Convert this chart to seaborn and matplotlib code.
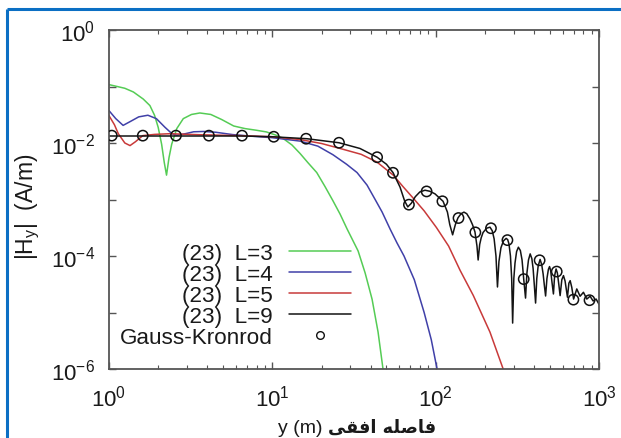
import matplotlib
matplotlib.use("Agg")
import matplotlib.pyplot as plt
import seaborn as sns
from matplotlib.lines import Line2D
from matplotlib.ticker import NullLocator, NullFormatter, LogLocator

# ---------------- data ----------------
l3_x = [1.0, 1.25, 1.41, 1.62, 1.78, 1.90, 2.0, 2.10, 2.18, 2.25, 2.33, 2.42, 2.60, 2.85,
        3.2, 3.6, 4.2, 4.9, 5.8, 6.8, 8.0, 9.2, 10.5, 11.7, 13.2, 14.8, 16.5, 18.7, 21.0,
        23.5, 26.0, 28.7, 33.5, 37.0, 40.8, 44.4, 47.6]
l3_y = [0.108, 0.093, 0.080, 0.060, 0.046, 0.031, 0.019, 0.0095, 0.0045, 0.0027, 0.0055,
        0.0095, 0.018, 0.027, 0.032, 0.034, 0.032, 0.026, 0.020, 0.0180, 0.0168, 0.0157,
        0.0138, 0.0119, 0.0092, 0.0065, 0.0045, 0.0030, 0.0017, 9.5e-4, 5.5e-4, 3.0e-4,
        1.23e-4, 5.0e-5, 1.72e-5, 4.5e-6, 1.0e-6]

l4_x = [1.0, 1.1, 1.22, 1.35, 1.52, 1.73, 1.95, 2.2, 2.43, 2.6, 2.9, 3.3, 3.8, 4.5, 5.7,
        7.5, 10.0, 14.8, 19.0, 23.5, 28.5, 33.0, 38.0, 42.6, 47.0, 52.6, 58.0, 64.0, 74.0,
        85.0, 94.0, 102.0]
l4_y = [0.0374, 0.027, 0.0205, 0.024, 0.029, 0.031, 0.027, 0.019, 0.0146, 0.0137, 0.0145,
        0.0158, 0.0160, 0.0155, 0.0141, 0.0132, 0.0124, 0.0108, 0.0088, 0.0062, 0.0042,
        0.0030, 0.0018, 0.0010, 6.0e-4, 3.0e-4, 1.7e-4, 1.0e-4, 3.8e-5, 1.0e-5, 3.3e-6, 1.0e-6]

l5_x = [1.0, 1.08, 1.14, 1.25, 1.345, 1.45, 1.61, 1.9, 2.36, 3.61, 6.34, 10.1, 14.8, 20.0,
        26.0, 35.0, 43.7, 55.0, 63.0, 73.0, 85.0, 101.0, 120.0, 141.0, 170.0, 215.0, 259.0]
l5_y = [0.0305, 0.021, 0.0146, 0.0100, 0.0090, 0.0105, 0.0135, 0.0142, 0.0146, 0.0140,
        0.0135, 0.0129, 0.0115, 0.0098, 0.0080, 0.0063, 0.0046, 0.0027, 0.0017, 1.05e-3,
        6.3e-4, 3.2e-4, 1.5e-4, 5.6e-5, 2.0e-5, 4.5e-6, 1.0e-6]

l9_x = [1.0, 2.0, 4.0, 6.5, 10.0, 16.3, 25.6, 34.4, 43.8, 50.0, 54.8, 60.5, 64.5, 67.5,
        71.0, 75.0, 80.0, 86.0, 92.0, 99.0, 111.0, 118.0, 122.0, 127.0, 132.0, 137.0, 143.0,
        149.0, 155.0, 162.0, 168.0, 174.0, 179.0, 182.0, 186.0, 190.0, 195.0, 205.0, 215.0,
        222.0, 228.0, 234.0, 239.0, 244.0, 251.0, 260.0, 270.0, 276.0, 281.0, 287.0, 292.0,
        296.0, 301.0, 306.0, 313.0, 321.0, 330.0, 338.0, 346.0, 355.0, 362.0, 370.0, 379.0,
        388.0, 395.0, 402.0, 409.0, 416.0, 424.0, 436.0, 446.0, 455.0, 463.0, 471.0, 480.0,
        490.0, 498.0, 506.0, 515.0, 526.0, 535.0, 546.0, 556.0, 567.0, 578.0, 592.0, 606.0,
        620.0, 641.0, 654.0, 666.0, 681.0, 699.0, 731.0, 766.0, 803.0, 842.0, 882.0, 920.0,
        960.0, 1000.0]
l9_y = [0.0133, 0.0133, 0.0133, 0.0133, 0.0129, 0.0119, 0.0101, 0.0080, 0.0056, 0.0042,
        0.0030, 0.00166, 9.5e-4, 7.4e-4, 8.6e-4, 1.12e-3, 1.36e-3, 1.46e-3, 1.40e-3, 1.26e-3,
        9.3e-4, 6.0e-4, 3.6e-4, 2.37e-4, 3.6e-4, 4.74e-4, 5.6e-4, 5.98e-4, 5.6e-4, 4.55e-4,
        3.6e-4, 2.67e-4, 1.5e-4, 8.5e-5, 1.6e-4, 2.1e-4, 2.6e-4, 3.1e-4, 3.24e-4, 2.8e-4,
        2.01e-4, 1.0e-4, 2.83e-5, 8.0e-5, 1.4e-4, 1.85e-4, 2.05e-4, 1.95e-4, 1.64e-4, 1.0e-4,
        4.0e-5, 6.5e-6, 4.0e-5, 7.5e-5, 1.2e-4, 1.43e-4, 1.25e-4, 8.5e-5, 3.9e-5, 1.8e-5,
        5.0e-5, 8.5e-5, 1.09e-4, 9.0e-5, 6.0e-5, 3.0e-5, 1.47e-5, 4.0e-5, 6.6e-5, 8.7e-5,
        7.0e-5, 4.8e-5, 3.0e-5, 1.96e-5, 4.0e-5, 5.8e-5, 6.5e-5, 5.5e-5, 3.5e-5, 2.13e-5,
        4.5e-5, 5.9e-5, 5.0e-5, 3.2e-5, 1.99e-5, 3.8e-5, 4.5e-5, 3.6e-5, 1.86e-5, 3.3e-5,
        3.66e-5, 2.8e-5, 1.73e-5, 2.61e-5, 1.94e-5, 2.28e-5, 1.73e-5, 1.94e-5, 1.6e-5,
        1.73e-5, 1.4e-5]

gk_x = [1.04, 1.61, 2.57, 4.09, 6.52, 10.2, 16.1, 25.6, 43.8, 54.8, 68.6, 88.0, 110.0,
        138.0, 175.0, 218.0, 275.0, 346.0, 433.0, 551.0, 697.0, 875.0]
gk_y = [0.0135, 0.0135, 0.0135, 0.0135, 0.0135, 0.0129, 0.0119, 0.0101, 0.0056, 0.00297,
        8.1e-4, 1.39e-3, 9.3e-4, 4.7e-4, 2.62e-4, 3.1e-4, 1.91e-4, 3.9e-5, 8.4e-5, 5.3e-5,
        1.69e-5, 1.65e-5]

series_labels = ["(23)  L=3", "(23)  L=4", "(23)  L=5", "(23)  L=9"]
gk_label = "Gauss-Kronrod"
x_ticks = [1, 10, 100, 1000]
x_tick_labels = ["$10^{0}$", "$10^{1}$", "$10^{2}$", "$10^{3}$"]
y_ticks = [1e-6, 1e-5, 1e-4, 1e-3, 1e-2, 1e-1, 1e0]
y_tick_labels = ["$10^{-6}$", "", "$10^{-4}$", "", "$10^{-2}$", "", "$10^{0}$"]
y_label = "|H$_{y}$|  (A/m)"
x_label_latin = "y (m)"
# Persian "فاصله افقی" written with Arabic presentation forms in visual order
x_label_persian = "\uFBFD\uFED8\uFED3\uFE8D \uFEEA\uFEE0\uFEBB\uFE8E\uFED3"

# ---------------- styling ----------------
sns.set_style("ticks")
plt.rcParams["font.family"] = ["Liberation Sans", "DejaVu Sans"]
plt.rcParams["mathtext.default"] = "regular"

W, H = 621, 439
fig = plt.figure(figsize=(W / 100, H / 100), dpi=100)
ax = fig.add_axes([109 / W, 1 - 370 / H, 490 / W, 339 / H])

colors = ["#55cc55", "#4040a8", "#c83a3a", "#141414"]
for xs, ys, lab, col in zip([l3_x, l4_x, l5_x, l9_x], [l3_y, l4_y, l5_y, l9_y],
                            series_labels, colors):
    sns.lineplot(x=xs, y=ys, ax=ax, color=col, linewidth=1.1, label=lab,
                 sort=False, estimator=None, legend=False)

sns.scatterplot(x=gk_x, y=gk_y, ax=ax, marker="o", s=55, color="#111111",
                facecolor="none", edgecolor="#111111", linewidth=1.1, zorder=5,
                legend=False)

ax.set_xscale("log")
ax.set_yscale("log")
ax.set_xlim(1, 1000)
ax.set_ylim(1e-6, 1)

ax.set_xticks(x_ticks, labels=x_tick_labels)
ax.xaxis.set_minor_locator(LogLocator(base=10, subs=(2, 3, 4, 5, 6, 7, 8, 9), numticks=20))
ax.xaxis.set_minor_formatter(NullFormatter())
ax.set_yticks(y_ticks, labels=y_tick_labels)
ax.yaxis.set_minor_locator(NullLocator())

spine_col = "#555555"
for sp in ax.spines.values():
    sp.set_visible(True)
    sp.set_color(spine_col)
    sp.set_linewidth(1.3)

ax.tick_params(which="both", direction="in", top=True, right=True, color=spine_col,
               labelcolor="#1a1a1a", labelsize=16)
ax.tick_params(which="major", length=5, width=1.0)
ax.tick_params(which="minor", length=3, width=0.8)
ax.tick_params(axis="x", which="major", pad=11)
ax.tick_params(axis="y", which="major", pad=10)
ax.set_xlabel("")
ax.set_ylabel("")

# legend (gnuplot style: text, then sample)
handles = [Line2D([], [], color=c, lw=1.1) for c in colors]
handles.append(Line2D([], [], ls="none", marker="o", ms=5.5, mfc="none",
                      mec="#111111", mew=1.0))
leg = ax.legend(handles, series_labels + [gk_label], loc="upper left",
                bbox_to_anchor=((120 - 109) / 490, (370 - 244) / 339),
                markerfirst=False, frameon=False, fontsize=16.2, handlelength=2.75,
                handletextpad=0.7, labelspacing=0.0, borderpad=0, borderaxespad=0)
for t in leg.get_texts():
    t.set_color("#1a1a1a")

# axis labels
fig.text(28 / W, 1 - 207 / H, y_label, rotation=90, ha="center", va="center",
         fontsize=16.5, color="#1a1a1a")
fig.text(323 / W, 1 - 433 / H, x_label_latin, ha="right", va="baseline",
         fontsize=14, color="#1a1a1a")
fig.text(328 / W, 1 - 433 / H, x_label_persian, ha="left", va="baseline",
         fontsize=12.8, fontweight="bold", color="#1a1a1a",
         family=["DejaVu Sans"])

# blue frame (left and top edges)
frame_col = "#0b6fc4"
fig.add_artist(Line2D([7 / W, 7 / W], [0, 1 - 10 / H], color=frame_col, lw=2.2,
                      transform=fig.transFigure, solid_capstyle="butt"))
fig.add_artist(Line2D([7 / W, 1], [1 - 10 / H, 1 - 10 / H], color=frame_col, lw=2.2,
                      transform=fig.transFigure, solid_capstyle="butt"))

fig.savefig("out.png", dpi=100)
